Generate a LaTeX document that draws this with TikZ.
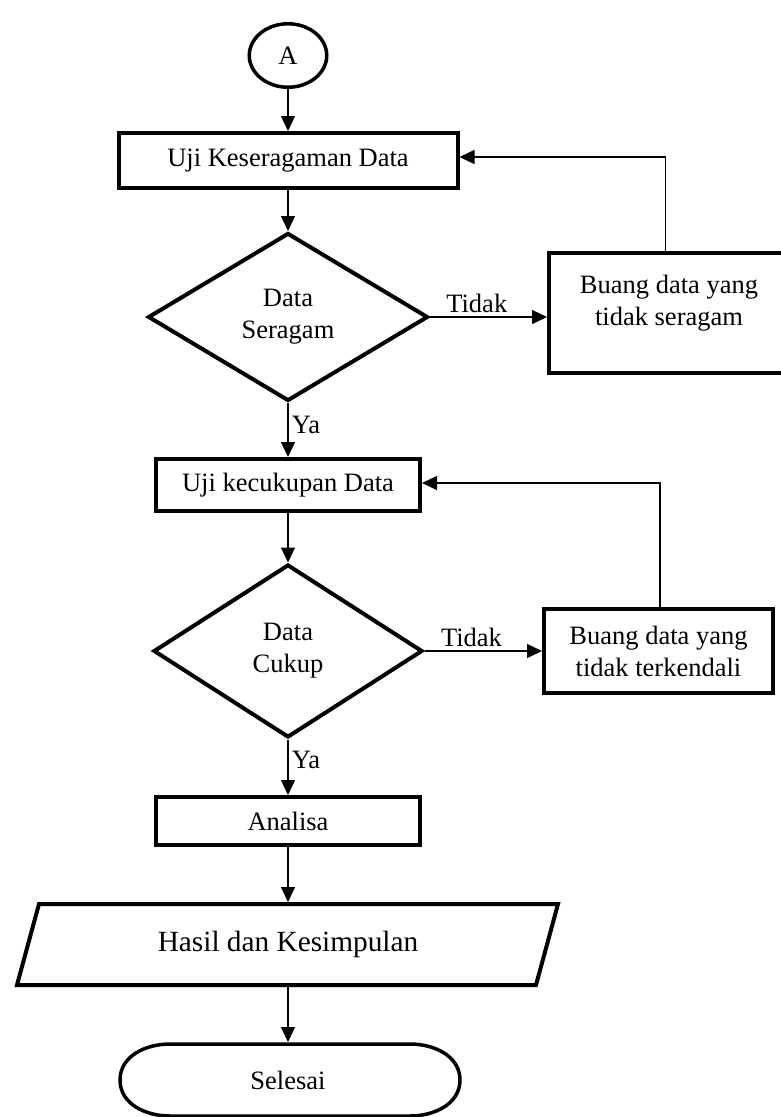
\documentclass[tikz,border=0pt]{standalone}
\usepackage{fontspec}
\setmainfont{Liberation Serif}
\usetikzlibrary{shapes.geometric,arrows.meta}

\tikzset{
  proses/.style={draw,rectangle,line width=4pt,inner sep=0pt,align=center,
    font=\fontsize{26.5}{32}\selectfont},
  keputusan/.style={draw,diamond,line width=4pt,inner sep=0pt,align=center,
    font=\fontsize{26.5}{32}\selectfont},
  teks/.style={inner sep=0pt,outer sep=2pt,align=center,font=\fontsize{26.5}{32}\selectfont},
  ket/.style={font=\fontsize{26.5}{32}\selectfont},
  panah/.style={-{Triangle[length=15pt,width=14pt]},line width=1.3pt},
}

\begin{document}
\begin{tikzpicture}[x=1pt,y=-1pt]
\useasboundingbox (0,0) rectangle (780,1117);

\node[ellipse,draw,line width=3.5pt,minimum width=77.5pt,minimum height=63.5pt,
  inner sep=0pt,font=\fontsize{26.5}{32}\selectfont] (A) at (288,55.5) {A};
\node[proses,minimum width=339pt,minimum height=55pt] (uji1) at (288,160.5) {Uji Keseragaman Data};
\node[keputusan,minimum width=280pt,minimum height=168pt] (seragam) at (288,317) {Data\\Seragam};
\node[proses,minimum width=241pt,minimum height=120pt] (buang1) at (669.5,313) {};
\node[teks] (buang1teks) at (669,303) {Buang data yang\\tidak seragam};
\node[proses,minimum width=264pt,minimum height=52pt] (uji2) at (288,485) {Uji kecukupan Data};
\node[keputusan,minimum width=269pt,minimum height=173pt] (cukup) at (288,651) {Data\\Cukup};
\node[proses,minimum width=229pt,minimum height=84pt] (buang2) at (658.5,651) {Buang data yang\\tidak terkendali};
\node[proses,minimum width=264pt,minimum height=48pt] (analisa) at (288,821) {Analisa};
\node[teks,minimum width=480pt,minimum height=81pt,
  font=\fontsize{29.3}{34}\selectfont] (hasil) at (288,944.5) {Hasil dan Kesimpulan};
\node[teks,minimum width=336pt,minimum height=72pt] (selesai) at (288,1080) {Selesai};

% jajaran genjang hasil
\draw[line width=4pt] (39,904) -- (558,904) -- (536,985) -- (17,985) -- cycle;
% bentuk terminator
\draw[line width=3.5pt] (170,1044) -- (410,1044) to[out=0,in=90] (460,1080)
  to[out=270,in=0] (410,1116) -- (170,1116) to[out=180,in=270] (120,1080)
  to[out=90,in=180] cycle;

\draw[panah] (A) -- (uji1);
\draw[panah] (uji1) -- (seragam);
\draw[panah] (seragam.east) -- node[ket,above,pos=0.4]{Tidak} (seragam.east -| buang1.west);
\draw[panah] ([xshift=-4pt]buang1.north) |- ([yshift=3.5pt]uji1.east);
\draw[panah] (seragam) -- node[ket,right,pos=0.4]{Ya} (uji2);
\draw[panah] (uji2) -- (cukup);
\draw[panah] (cukup.east) -- node[ket,above,pos=0.4]{Tidak} (cukup.east -| buang2.west);
\draw[panah] ([xshift=1.5pt]buang2.north) |- ([yshift=2pt]uji2.east);
\draw[panah] (cukup) -- node[ket,right,pos=0.36]{Ya} (analisa);
\draw[panah] (analisa) -- (hasil);
\draw[panah] (hasil) -- (selesai);
\end{tikzpicture}
\end{document}
